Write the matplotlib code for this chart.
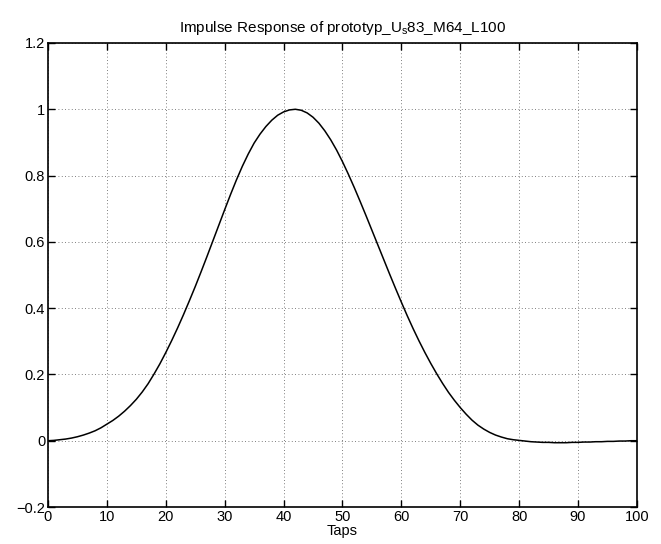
import matplotlib.pyplot as plt
import numpy as np

plt.rcParams['font.family'] = ['Liberation Sans', 'DejaVu Sans']
plt.rcParams['mathtext.default'] = 'regular'

# impulse response, one value per tap
taps = list(range(0, 101))
response = [0.000, 0.001, 0.003, 0.005, 0.008, 0.012, 0.017, 0.023, 0.030, 0.039,
            0.050, 0.061, 0.074, 0.089, 0.106, 0.125, 0.147, 0.172, 0.201, 0.232,
            0.266, 0.302, 0.340, 0.380, 0.422, 0.465, 0.510, 0.556, 0.603, 0.650,
            0.697, 0.743, 0.787, 0.828, 0.865, 0.898, 0.925, 0.948, 0.967, 0.982,
            0.992, 0.998, 1.000, 0.997, 0.989, 0.976, 0.958, 0.935, 0.908, 0.877,
            0.842, 0.804, 0.764, 0.722, 0.679, 0.635, 0.591, 0.547, 0.503, 0.460,
            0.418, 0.377, 0.338, 0.301, 0.266, 0.233, 0.202, 0.173, 0.146, 0.122,
            0.100, 0.080, 0.062, 0.047, 0.035, 0.025, 0.017, 0.011, 0.006, 0.003,
            0.001, -0.001, -0.003, -0.004, -0.005, -0.005, -0.006, -0.006, -0.006, -0.005,
            -0.005, -0.004, -0.004, -0.003, -0.003, -0.002, -0.002, -0.001, -0.001, 0.000,
            0.000]

xticks = [0, 10, 20, 30, 40, 50, 60, 70, 80, 90, 100]
yticks = [-0.2, 0, 0.2, 0.4, 0.6, 0.8, 1, 1.2]
ytick_labels = ['\u22120.2', '0', '0.2', '0.4', '0.6', '0.8', '1', '1.2']

fig = plt.figure(figsize=(6.61, 5.44), dpi=100)
ax = fig.add_axes([0.0726, 0.068, 0.891, 0.853])

ax.plot(taps, response, color='black', linewidth=1.1)

ax.set_xlim(0, 100)
ax.set_ylim(-0.2, 1.2)
ax.set_xticks(xticks)
ax.set_yticks(yticks)
ax.set_yticklabels(ytick_labels)
ax.tick_params(direction='in', top=True, right=True, length=5, width=1,
               labelsize=10.5, pad=2)
for s in ax.spines.values():
    s.set_linewidth(1.2)

ax.grid(True, linestyle=(0, (1, 3)), color='#555555', linewidth=0.6)

ax.set_title(r'Impulse Response of prototyp_U$_{s}$83_M64_L100', fontsize=11, pad=8)
ax.set_xlabel('Taps', fontsize=10.5, labelpad=0)

fig.savefig('out.png', dpi=100)
